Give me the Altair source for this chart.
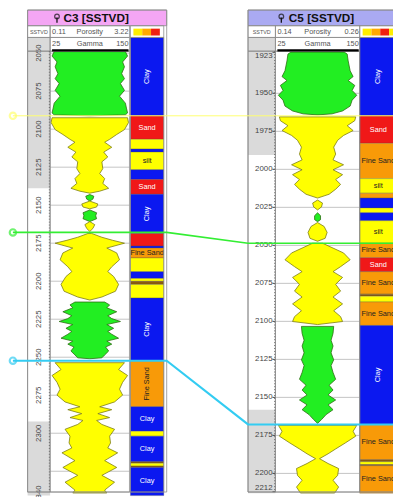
import altair as alt
import pandas as pd

# ================= values =================
# Well C3 [SSTVD] : mirror-filled Gamma Ray, one pair of lists per fill zone
C3_CLAY1_DEPTH = [2049.0, 2051.9, 2055.8, 2059.0, 2063.5, 2066.8, 2070.0, 2074.5, 2078.3, 2082.9, 2086.7, 2089.3, 2090.6, 2091.2]
C3_CLAY1_GR = [140, 147, 131, 137, 128, 137, 124, 137, 121, 140, 144, 147, 140, 25]
C3_SAND1_DEPTH = [2092.5, 2095.7, 2100.3, 2103.5, 2106.7, 2108.6, 2111.9, 2115.1, 2118.3, 2121.5, 2126.0, 2129.2, 2132.5, 2135.7, 2138.9, 2140.8, 2142.1]
C3_SAND1_GR = [147, 150, 137, 112, 89, 73, 96, 70, 83, 64, 67, 57, 73, 67, 86, 57, 25]
C3_CLAY2_DEPTH = [2143.0, 2144.1, 2146.0, 2147.3]
C3_CLAY2_GR = [25, 38, 35, 25]
C3_SAND2_DEPTH = [2147.3, 2149.2, 2151.2, 2152.4]
C3_SAND2_GR = [25, 51, 47, 25]
C3_CLAY3_DEPTH = [2153.1, 2155.0, 2157.0, 2158.9, 2160.8]
C3_CLAY3_GR = [25, 47, 44, 47, 25]
C3_SAND3_DEPTH = [2160.8, 2162.8, 2165.3, 2167.3]
C3_SAND3_GR = [25, 41, 35, 25]
C3_SAND4_DEPTH = [2168.6, 2171.1, 2173.1, 2175.0, 2178.2, 2181.4, 2185.9, 2190.5, 2193.7, 2196.9, 2202.1, 2206.6, 2210.4, 2212.4]
C3_SAND4_GR = [31, 64, 99, 137, 80, 112, 121, 96, 83, 102, 118, 108, 64, 25]
C3_CLAY4_DEPTH = [2213.7, 2215.6, 2217.5, 2220.1, 2222.7, 2224.6, 2226.5, 2228.5, 2231.0, 2233.0, 2234.9, 2237.5, 2239.4, 2241.4, 2243.3, 2245.9, 2248.5, 2250.4, 2251.0]
C3_CLAY4_GR = [73, 89, 80, 112, 83, 96, 124, 80, 102, 83, 96, 118, 80, 96, 76, 86, 73, 64, 25]
C3_SAND5_DEPTH = [2253.6, 2258.1, 2262.0, 2266.5, 2271.0, 2274.9, 2279.4, 2282.6, 2284.5, 2287.1, 2289.7, 2291.6, 2294.2, 2297.4, 2301.9, 2306.4, 2309.7, 2312.9, 2318.0, 2322.5, 2327.7, 2332.2, 2337.4, 2339.3]
C3_SAND5_GR = [137, 118, 147, 131, 121, 131, 105, 57, 96, 51, 89, 47, 64, 105, 89, 92, 83, 115, 73, 112, 64, 105, 73, 80]

# Well C5 [SSTVD]
C5_CLAY1_DEPTH = [1922.9, 1924.2, 1928.7, 1935.2, 1939.0, 1941.6, 1944.8, 1948.1, 1951.3, 1954.5, 1958.4, 1961.6, 1963.5, 1964.2]
C5_CLAY1_GR = [106, 115, 118, 124, 133, 118, 138, 130, 144, 130, 124, 101, 69, 25]
C5_SAND1_DEPTH = [1965.5, 1968.0, 1971.3, 1974.5, 1977.7, 1980.9, 1985.4, 1990.0, 1993.8, 1997.0, 2000.3, 2003.5, 2006.7, 2009.9, 2013.1, 2016.4, 2018.9]
C5_SAND1_GR = [141, 138, 115, 133, 104, 86, 74, 80, 72, 104, 72, 101, 80, 95, 80, 60, 25]
C5_SAND2_DEPTH = [2020.2, 2022.2, 2024.7, 2026.7]
C5_SAND2_GR = [25, 40, 37, 25]
C5_CLAY2_DEPTH = [2028.6, 2030.5, 2033.1, 2034.4]
C5_CLAY2_GR = [25, 34, 34, 25]
C5_SAND3_DEPTH = [2035.0, 2037.6, 2041.5, 2045.4, 2047.3]
C5_SAND3_GR = [25, 45, 54, 48, 25]
C5_SAND4_DEPTH = [2048.6, 2051.8, 2055.0, 2059.5, 2064.0, 2067.3, 2071.1, 2075.6, 2080.1, 2084.0, 2088.5, 2093.0, 2096.9, 2100.1, 2102.1]
C5_SAND4_GR = [40, 72, 104, 124, 95, 72, 101, 80, 95, 72, 101, 74, 95, 101, 25]
C5_CLAY3_DEPTH = [2103.3, 2107.9, 2112.4, 2116.2, 2120.7, 2125.3, 2129.1, 2133.6, 2138.1, 2142.0, 2145.2, 2148.4, 2151.7, 2154.9, 2158.1, 2161.3, 2164.6, 2167.1]
C5_CLAY3_GR = [74, 72, 66, 72, 66, 74, 66, 72, 80, 60, 72, 57, 80, 57, 72, 51, 37, 25]
C5_SAND5_DEPTH = [2168.4, 2172.3, 2175.5, 2180.0, 2183.9, 2187.1, 2190.3, 2193.5, 2196.8, 2201.3, 2204.5, 2209.0, 2212.9]
C5_SAND5_GR = [144, 133, 141, 109, 80, 57, 31, 57, 89, 86, 72, 89, 77]

# Lithology columns
C3_LITH_TOP = [2039.7, 2091.2, 2106.7, 2113.1, 2115.1, 2126.7, 2133.1, 2142.8, 2168.6, 2176.9, 2178.2, 2184.7, 2193.7,
               2198.2, 2200.1, 2202.1, 2211.1, 2252.3, 2282.6, 2298.7, 2301.9, 2318.7, 2319.7, 2321.6, 2322.5]
C3_LITH_BASE = C3_LITH_TOP[1:] + [2341.0]
C3_LITH = ["Clay", "Sand", "Silt", "Clay", "Silt", "Clay", "Sand", "Clay", "Sand", "Clay", "Fine Sand", "Silt", "Clay",
           "Silt", "Coal", "Silt", "Clay", "Fine Sand", "Clay", "Silt", "Clay", "Coal", "Silt", "Coal", "Clay"]
C3_LITH_LABEL = ["Clay", "Sand", "", "", "silt", "", "Sand", "Clay", "", "", "Fine Sand", "", "",
                 "", "", "", "Clay", "Fine Sand", "Clay", "", "Clay", "", "", "", "Clay"]

C5_LITH_TOP = [1913.3, 1964.8, 1982.9, 2006.1, 2015.7, 2018.9, 2025.4, 2028.6, 2033.8, 2048.6, 2058.2, 2067.3, 2082.1,
               2083.4, 2087.2, 2102.7, 2167.8, 2191.0, 2192.3, 2194.2, 2194.9]
C5_LITH_BASE = C5_LITH_TOP[1:] + [2213.0]
C5_LITH = ["Clay", "Sand", "Fine Sand", "Silt", "Fine Sand", "Clay", "Silt", "Clay", "Silt", "Fine Sand", "Sand",
           "Fine Sand", "Coal", "Silt", "Fine Sand", "Clay", "Fine Sand", "Coal", "Silt", "Coal", "Fine Sand"]
C5_LITH_LABEL = ["Clay", "Sand", "Fine Sand", "silt", "", "", "", "", "silt", "Fine Sand", "Sand",
                 "Fine Sand", "", "", "Fine Sand", "Clay", "Fine Sand", "", "", "", "Fine Sand"]

# Depth ticks / grid / shaded intervals of the depth track
C3_GRID = [2050, 2075, 2100, 2125, 2150, 2175, 2200, 2225, 2250, 2275, 2300, 2325]
C3_TICK_LABELS = [2050, 2075, 2100, 2125, 2150, 2175, 2200, 2225, 2250, 2275, 2300, 2340]
C5_GRID = [1950, 1975, 2000, 2025, 2050, 2075, 2100, 2125, 2150, 2175, 2200]
C5_TICK_LABELS = [1923, 1950, 1975, 2000, 2025, 2050, 2075, 2100, 2125, 2150, 2175, 2200, 2212]
C3_SHADE_TOP, C3_SHADE_BASE = [2039.7, 2292.3], [2138.9, 2341.0]
C5_SHADE_TOP, C5_SHADE_BASE = [1913.3, 2158.1], [1990.6, 2213.0]

# Curve header ranges
GR_RANGE = [25, 150]
C3_POR_RANGE = ["0.11", "3.22"]
C5_POR_RANGE = ["0.14", "0.26"]

# Correlated well tops (depth in each well)
TOP_NAMES = ["Top A", "Top B", "Top C"]
TOP_DEPTH_C3 = [2091.2, 2167.9, 2252.3]
TOP_DEPTH_C5 = [1964.8, 2048.6, 2167.8]

# ================= layout & style =================
W, H, ORIGIN = 393, 489, 8          # plot size; reference pixel of plot origin
PX = 1.552                          # pixels per depth unit (both wells)
ANCHOR = {"C3": (2050, 49), "C5": (1950, 90)}   # depth -> pixel anchor
DOM = {w: [d - (p - ORIGIN) / PX, d - (p - ORIGIN) / PX + H / PX] for w, (d, p) in ANCHOR.items()}
LAY = {
    "C3": dict(box=(28, 170), depth=(28, 51), curve=(51, 132), lith=(133, 167), title_fill="#f4a6f4",
               sym=58, title_x=98, name="C3"),
    "C5": dict(box=(253, 430), depth=(253, 281), curve=(281, 367), lith=(367, 405), title_fill="#aaaaf2",
               sym=287, title_x=328, name="C5"),
}
ROW_TITLE, ROW1, ROW2, BODY = (5, 21), (21, 33), (33, 47), (47, 497)
FONT = "Liberation Sans"
LITH_TYPES = ["Clay", "Sand", "Silt", "Fine Sand", "Coal"]
LITH_FILL = ["#0b18f0", "#f01818", "#ffff00", "#f89a08", "#8a5a10"]
LITH_TEXT = ["#ffffff", "#ffffff", "#222222", "#222222", "#ffffff"]
TOP_COLORS = ["#ffff70", "#33ee33", "#33ccf2"]
TOP_WIDTHS = [1.0, 2.2, 1.6]
LINE_X = [13, 170, 253, 430]

XL = alt.Scale(domain=[ORIGIN, ORIGIN + W], range=[0, W])
YP = alt.Scale(domain=[ORIGIN, ORIGIN + H], range=[0, H])


def ys(well):
    return alt.Scale(domain=DOM[well], range=[0, H])


def xq(f, scale=XL, **kw):
    return alt.X(f"{f}:Q", scale=scale, axis=None, **kw)


def yq(f, scale, **kw):
    return alt.Y(f"{f}:Q", scale=scale, axis=None, **kw)


def well_layers(well, zones, lt, lb, lith, labels, grid, ticks, st, sb):
    L = LAY[well]
    Y = ys(well)
    out = []
    # shaded depth track intervals
    d = pd.DataFrame({"top": st, "base": sb, "x0": L["depth"][0], "x1": L["depth"][1]})
    out.append(alt.Chart(d).mark_rect(color="#dadada").encode(
        x=xq("x0"), x2="x1:Q", y=yq("top", Y), y2="base:Q"))
    # grid lines in curve track
    d = pd.DataFrame({"depth": grid, "x0": L["curve"][0], "x1": L["curve"][1]})
    out.append(alt.Chart(d).mark_rule(color="#c4c4c4", strokeWidth=1).encode(
        x=xq("x0"), x2="x1:Q", y=yq("depth", Y)))
    # mirror-filled gamma ray, one polygon per zone
    XG = alt.Scale(domain=[GR_RANGE[0] - GR_RANGE[1], GR_RANGE[1] - GR_RANGE[0]],
                   range=[L["curve"][0] + 1 - ORIGIN, L["curve"][1] - 1 - ORIGIN])
    for kind, deps, grs in zones:
        d = pd.DataFrame({"depth": deps, "gamma": grs})
        fill, edge = ("#ffff00", "#7b7b14") if kind == "Sand" else ("#22ee22", "#2d6b12")
        out.append(alt.Chart(d).transform_calculate(
            lo=f"{GR_RANGE[0]} - datum.gamma", hi=f"datum.gamma - {GR_RANGE[0]}"
        ).mark_area(orient="horizontal", strokeWidth=0.8, fill=fill, stroke=edge).encode(
            y=yq("depth", Y, sort=None), x=xq("lo", XG, stack=None), x2="hi:Q"))
    # lithology column
    d = pd.DataFrame({"top": lt, "base": lb, "lith": lith, "label": labels,
                      "x0": L["lith"][0], "x1": L["lith"][1], "xc": (L["lith"][0] + L["lith"][1]) / 2})
    out.append(alt.Chart(d).mark_rect(stroke="#505050", strokeWidth=0.3).encode(
        x=xq("x0"), x2="x1:Q", y=yq("top", Y), y2="base:Q",
        color=alt.Color("lith:N", scale=alt.Scale(domain=LITH_TYPES, range=LITH_FILL), legend=None)))
    base = alt.Chart(d).transform_filter("datum.label != ''").transform_calculate(
        mid="(datum.top + datum.base) / 2", thick="datum.base - datum.top")
    tenc = dict(x=xq("xc"), y=yq("mid", Y), text="label:N",
                color=alt.Color("lith:N", scale=alt.Scale(domain=LITH_TYPES, range=LITH_TEXT), legend=None))
    out.append(base.transform_filter("datum.thick <= 24").mark_text(
        font=FONT, fontSize=7.5, baseline="middle").encode(**tenc))
    out.append(base.transform_filter("datum.thick > 24").mark_text(
        font=FONT, fontSize=7.5, baseline="middle", angle=270).encode(**tenc))
    # depth labels
    d = pd.DataFrame({"depth": ticks, "txt": [str(t) for t in ticks]})
    if well == "C3":
        d["x"] = (L["depth"][0] + L["depth"][1]) / 2 + 0.5
        out.append(alt.Chart(d).mark_text(font=FONT, fontSize=8, angle=270, color="#444",
                                          baseline="middle").encode(
            x=xq("x"), y=yq("depth", Y), text="txt:N"))
    else:
        d["x"] = L["depth"][1] - 3
        d["x1"] = L["depth"][1]
        d["pos"] = ["first"] + ["mid"] * (len(ticks) - 2) + ["last"]
        for pos, bl in (("first", "top"), ("mid", "middle"), ("last", "bottom")):
            out.append(alt.Chart(d).transform_filter(f"datum.pos == '{pos}'").mark_text(
                font=FONT, fontSize=8, color="#444", align="right", baseline=bl).encode(
                x=xq("x"), y=yq("depth", Y), text="txt:N"))
        out.append(alt.Chart(d).mark_rule(color="#444", strokeWidth=1).encode(
            x=xq("x"), x2="x1:Q", y=yq("depth", Y)))
    return out


C3_ZONES = [("Clay", C3_CLAY1_DEPTH, C3_CLAY1_GR), ("Sand", C3_SAND1_DEPTH, C3_SAND1_GR),
            ("Clay", C3_CLAY2_DEPTH, C3_CLAY2_GR), ("Sand", C3_SAND2_DEPTH, C3_SAND2_GR),
            ("Clay", C3_CLAY3_DEPTH, C3_CLAY3_GR), ("Sand", C3_SAND3_DEPTH, C3_SAND3_GR),
            ("Sand", C3_SAND4_DEPTH, C3_SAND4_GR), ("Clay", C3_CLAY4_DEPTH, C3_CLAY4_GR),
            ("Sand", C3_SAND5_DEPTH, C3_SAND5_GR)]
C5_ZONES = [("Clay", C5_CLAY1_DEPTH, C5_CLAY1_GR), ("Sand", C5_SAND1_DEPTH, C5_SAND1_GR),
            ("Sand", C5_SAND2_DEPTH, C5_SAND2_GR), ("Clay", C5_CLAY2_DEPTH, C5_CLAY2_GR),
            ("Sand", C5_SAND3_DEPTH, C5_SAND3_GR), ("Sand", C5_SAND4_DEPTH, C5_SAND4_GR),
            ("Clay", C5_CLAY3_DEPTH, C5_CLAY3_GR), ("Sand", C5_SAND5_DEPTH, C5_SAND5_GR)]

layers = []
# title bands
tb = pd.DataFrame([{"x0": L["box"][0], "x1": L["box"][1], "y0": ROW_TITLE[0], "y1": ROW_TITLE[1],
                    "fill": L["title_fill"]} for L in LAY.values()])
layers.append(alt.Chart(tb).mark_rect().encode(
    x=xq("x0"), x2="x1:Q", y=yq("y0", YP), y2="y1:Q", color=alt.Color("fill:N", scale=None)))

layers += well_layers("C3", C3_ZONES, C3_LITH_TOP, C3_LITH_BASE, C3_LITH, C3_LITH_LABEL,
                      C3_GRID, C3_TICK_LABELS, C3_SHADE_TOP, C3_SHADE_BASE)
layers += well_layers("C5", C5_ZONES, C5_LITH_TOP, C5_LITH_BASE, C5_LITH, C5_LITH_LABEL,
                      C5_GRID, C5_TICK_LABELS, C5_SHADE_TOP, C5_SHADE_BASE)

# frame outlines
fr = []
for L in LAY.values():
    b, dp, cv, li = L["box"], L["depth"], L["curve"], L["lith"]
    for (x0, x1), (y0, y1) in [(b, (ROW_TITLE[0], BODY[1])), (b, ROW_TITLE), (dp, ROW1), (cv, ROW1), (li, ROW1),
                               (dp, ROW2), (cv, ROW2), (dp, BODY), (cv, BODY), (li, (ROW2[0], BODY[1]))]:
        fr.append({"x0": x0, "x1": x1, "y0": y0, "y1": y1})
layers.append(alt.Chart(pd.DataFrame(fr)).mark_rect(fillOpacity=0, stroke="#8c8c8c", strokeWidth=0.8).encode(
    x=xq("x0"), x2="x1:Q", y=yq("y0", YP), y2="y1:Q"))

# lithology header swatches
sw = []
for L in LAY.values():
    x = L["lith"][0] + 3
    for c in ["#ffee00", "#ffaa00", "#f02010", "#ffee00"]:
        sw.append({"x0": x, "x1": x + 9, "y0": ROW1[0] + 3, "y1": ROW1[1] - 2, "fill": c})
        x += 9
sw = [s for s in sw if s["x1"] <= LAY["C3"]["lith"][1] - 2 or s["x0"] > LAY["C5"]["box"][0]]
layers.append(alt.Chart(pd.DataFrame(sw)).mark_rect().encode(
    x=xq("x0"), x2="x1:Q", y=yq("y0", YP), y2="y1:Q", color=alt.Color("fill:N", scale=None)))

# black gamma curve line under header, dotted minor-tick line on depth tracks
gl = pd.DataFrame([{"x0": L["curve"][0] + 2, "x1": L["curve"][1] - 1, "y": ROW2[1] - 0.8} for L in LAY.values()])
layers.append(alt.Chart(gl).mark_rule(color="#000000", strokeWidth=2.5).encode(
    x=xq("x0"), x2="x1:Q", y=yq("y", YP)))
dl = pd.DataFrame([{"x": L["depth"][1] - 0.8, "y0": BODY[0], "y1": BODY[1]} for L in LAY.values()])
layers.append(alt.Chart(dl).mark_rule(color="#666666", strokeWidth=1, strokeDash=[1, 2]).encode(
    x=xq("x"), y=yq("y0", YP), y2="y1:Q"))

# header texts
ym1, ym2 = (ROW1[0] + ROW1[1]) / 2 + 0.5, (ROW2[0] + ROW2[1]) / 2
center_txt, left_txt, right_txt, title_txt = [], [], [], []
for w, por in (("C3", C3_POR_RANGE), ("C5", C5_POR_RANGE)):
    L = LAY[w]
    cx = (L["curve"][0] + L["curve"][1]) / 2
    title_txt.append({"x": L["title_x"], "y": 13.5, "t": f"{L['name']} [SSTVD]"})
    center_txt += [{"x": cx, "y": ym1, "t": "Porosity"}, {"x": cx, "y": ym2, "t": "Gamma"},
                   {"x": (L["depth"][0] + L["depth"][1]) / 2, "y": ym1, "t": "SSTVD"}]
    left_txt += [{"x": L["curve"][0] + 2, "y": ym1, "t": por[0]}, {"x": L["curve"][0] + 2, "y": ym2, "t": str(GR_RANGE[0])}]
    right_txt += [{"x": L["curve"][1] - 1, "y": ym1, "t": por[1]}, {"x": L["curve"][1] - 1, "y": ym2, "t": str(GR_RANGE[1])}]


def txt_layer(rows, **kw):
    return alt.Chart(pd.DataFrame(rows)).mark_text(font=FONT, baseline="middle", **kw).encode(
        x=xq("x"), y=yq("y", YP), text="t:N")


layers.append(txt_layer(title_txt, fontSize=12, fontWeight="bold", color="#111"))
layers.append(txt_layer(center_txt[:2] + center_txt[3:5], fontSize=7.5, color="#555"))
layers.append(txt_layer([center_txt[2], center_txt[5]], fontSize=5.5, color="#555"))
layers.append(txt_layer(left_txt, fontSize=7.5, color="#555", align="left"))
layers.append(txt_layer(right_txt, fontSize=7.5, color="#555", align="right"))

# well symbols in title bands
sym = pd.DataFrame([{"x": L["sym"], "y": 11.5, "y1": 12.5, "y2": 18} for L in LAY.values()])
layers.append(alt.Chart(sym).mark_point(shape="circle", filled=False, size=22, strokeWidth=1.3, color="#111").encode(
    x=xq("x"), y=yq("y", YP)))
layers.append(alt.Chart(sym).mark_rule(strokeWidth=1.3, color="#111").encode(
    x=xq("x"), y=yq("y1", YP), y2="y2:Q"))

# correlation lines between the wells (drawn in C3 depth units; C5 depths mapped by the same pixel scale)
YC = ys("C3")
shift = DOM["C3"][0] - DOM["C5"][0]
cl = []
for name, d3, d5 in zip(TOP_NAMES, TOP_DEPTH_C3, TOP_DEPTH_C5):
    for i, x in enumerate(LINE_X):
        cl.append({"top": name, "i": i, "x": x, "d": d3 if i < 2 else d5 + shift})
cl = pd.DataFrame(cl)
layers.append(alt.Chart(cl).mark_line(interpolate="linear").encode(
    x=xq("x"), y=yq("d", YC), order="i:Q",
    color=alt.Color("top:N", scale=alt.Scale(domain=TOP_NAMES, range=TOP_COLORS), legend=None),
    strokeWidth=alt.StrokeWidth("top:N", scale=alt.Scale(domain=TOP_NAMES, range=TOP_WIDTHS), legend=None)))
layers.append(alt.Chart(cl[cl["i"] == 0]).mark_point(shape="circle", filled=False, size=42, strokeWidth=2.2).encode(
    x=xq("x"), y=yq("d", YC),
    color=alt.Color("top:N", scale=alt.Scale(domain=TOP_NAMES, range=TOP_COLORS), legend=None)))

chart = alt.layer(*layers).resolve_scale(
    x="independent", y="independent", color="independent", strokeWidth="independent"
).properties(width=W, height=H, autosize="none", padding=0).configure_view(stroke=None)

chart.save("out.html", embed_options={"renderer": "svg", "actions": False})
